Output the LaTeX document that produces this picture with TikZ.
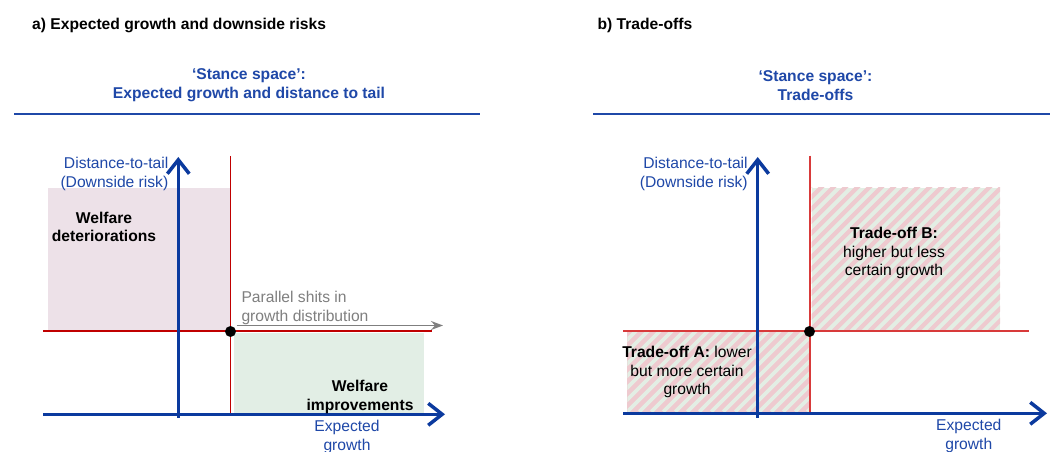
\documentclass[tikz,border=0pt]{standalone}
\usepackage{fontspec}
\setmainfont{Liberation Sans}
\usetikzlibrary{arrows.meta}
\definecolor{axisblue}{HTML}{0B3A9E}
\definecolor{titleblue}{HTML}{1F48A8}
\definecolor{reda}{HTML}{C00000}
\definecolor{redb}{HTML}{D83A3A}
\definecolor{pinkfill}{HTML}{EDE1E8}
\definecolor{greenfill}{HTML}{E2EEE5}
\definecolor{stripepink}{HTML}{EECACF}
\definecolor{stripegreen}{HTML}{E3EEE4}
\definecolor{greyarrow}{HTML}{7F7F7F}
\begin{document}
\begin{tikzpicture}[x=1bp,y=-1bp,
  txt/.style={inner sep=0pt, font=\fontsize{15.7}{18.7}\selectfont, align=center},
  axisline/.style={line width=3.5pt, draw=axisblue, -{Straight Barb[length=14pt,width=22pt]}},
  titleline/.style={line width=2pt, draw=titleblue},
  dotstyle/.style={circle, fill=black, minimum size=11pt, inner sep=0pt},
  redline/.style={line width=2pt}]
\useasboundingbox (0,0) rectangle (1050,452);
\fill[white] (0,0) rectangle (1050,452);

% ---------- Panel a ----------
\node[txt, anchor=west, font=\fontsize{15.7}{18.7}\selectfont\bfseries] (ta) at (32,25) {a) Expected growth and downside risks};
\node[txt, text=titleblue, font=\fontsize{15.7}{18.7}\selectfont\bfseries] (sa) at (249,85.5) {`Stance space':\\Expected growth and distance to tail};
\coordinate (la0) at (14,114.3); \coordinate (la1) at (480,114.3);
\draw[titleline] (la0) -- (la1);

\fill[pinkfill] (47.7,187.7) rectangle (230,331);
\fill[greenfill] (234,333.3) rectangle (424,414);

\coordinate (rva0) at (230.5,156); \coordinate (rva1) at (230.5,414);
\coordinate (rha0) at (43,331); \coordinate (rha1) at (431.7,331);
\draw[redline, draw=reda] (rva0) -- (rva1);
\draw[redline, draw=reda] (rha0) -- (rha1);

\coordinate (ga0) at (236.7,325.5); \coordinate (ga1) at (443,325.5);
\draw[line width=1.8pt, greyarrow, -{Stealth[length=12pt,width=9pt,inset=4pt]}] (ga0) -- (ga1);

\coordinate (xa0) at (43,414.3); \coordinate (xa1) at (445,414.3);
\coordinate (ya0) at (178.3,418); \coordinate (ya1) at (178.3,157);
\draw[axisline] (xa0) -- (xa1);
\draw[axisline] (ya0) -- (ya1);
\node[dotstyle] (da) at (230.5,331.5) {};

\node[txt, font=\fontsize{15.7}{18.7}\selectfont\bfseries] (wd) at (104,227) {Welfare\\deteriorations};
\node[txt, font=\fontsize{15.7}{18.7}\selectfont\bfseries] (wi) at (360,397) {Welfare\\improvements};
\node[txt, anchor=west, align=left, text=greyarrow] (ps) at (241.3,308) {Parallel shits in\\growth distribution};
\node[txt, anchor=east, align=right, text=titleblue] (dta) at (168.5,174) {Distance-to-tail\\(Downside risk)};
\node[txt, anchor=north, text=titleblue] (ega) at (347,420) {Expected\\growth};

% ---------- Panel b ----------
\node[txt, anchor=west, font=\fontsize{15.7}{18.7}\selectfont\bfseries] (tb) at (597.3,25) {b) Trade-offs};
\node[txt, text=titleblue, font=\fontsize{15.7}{18.7}\selectfont\bfseries] (sb) at (815.5,85.5) {`Stance space':\\Trade-offs};
\coordinate (lb0) at (593.3,114.3); \coordinate (lb1) at (1050,114.3);
\draw[titleline] (lb0) -- (lb1);

% hatched A
\fill[stripepink] (627.3,331) rectangle (809.5,411.7);
\begin{scope}
\clip (627.3,331) rectangle (809.5,411.7);
\foreach \i in {-120,-108,...,200} {
  \draw[line width=3.6pt, stripegreen] (627.3+\i,411.7) -- ++(140,-140);
}
\end{scope}
% hatched B
\fill[stripegreen] (811.7,187.7) rectangle (1000,331);
\begin{scope}
\clip (811.7,187.7) rectangle (1000,331);
\foreach \i in {-170,-158,...,200} {
  \draw[line width=4.2pt, stripepink] (811.7+\i,331) -- ++(180,-180);
}
\end{scope}

\coordinate (rvb0) at (809.5,155.7); \coordinate (rvb1) at (809.5,412);
\coordinate (rhb0) at (623.3,331); \coordinate (rhb1) at (1029,331);
\draw[redline, draw=redb] (rvb0) -- (rvb1);
\draw[redline, draw=redb] (rhb0) -- (rhb1);

\coordinate (xb0) at (623.3,413.3); \coordinate (xb1) at (1047,413.3);
\coordinate (yb0) at (757.7,418); \coordinate (yb1) at (757.7,157);
\draw[axisline] (xb0) -- (xb1);
\draw[axisline] (yb0) -- (yb1);
\node[dotstyle] (db) at (809.5,331.5) {};

\node[txt] (tob) at (894,253) {\textbf{Trade-off B:}\\higher but less\\certain growth};
\node[txt] (toa) at (687,372) {\textbf{Trade-off A:} lower\\but more certain\\growth};
\node[txt, anchor=east, align=right, text=titleblue] (dtb) at (747.9,174) {Distance-to-tail\\(Downside risk)};
\node[txt, anchor=north, text=titleblue] (egb) at (968.8,419) {Expected\\growth};
\end{tikzpicture}
\end{document}
